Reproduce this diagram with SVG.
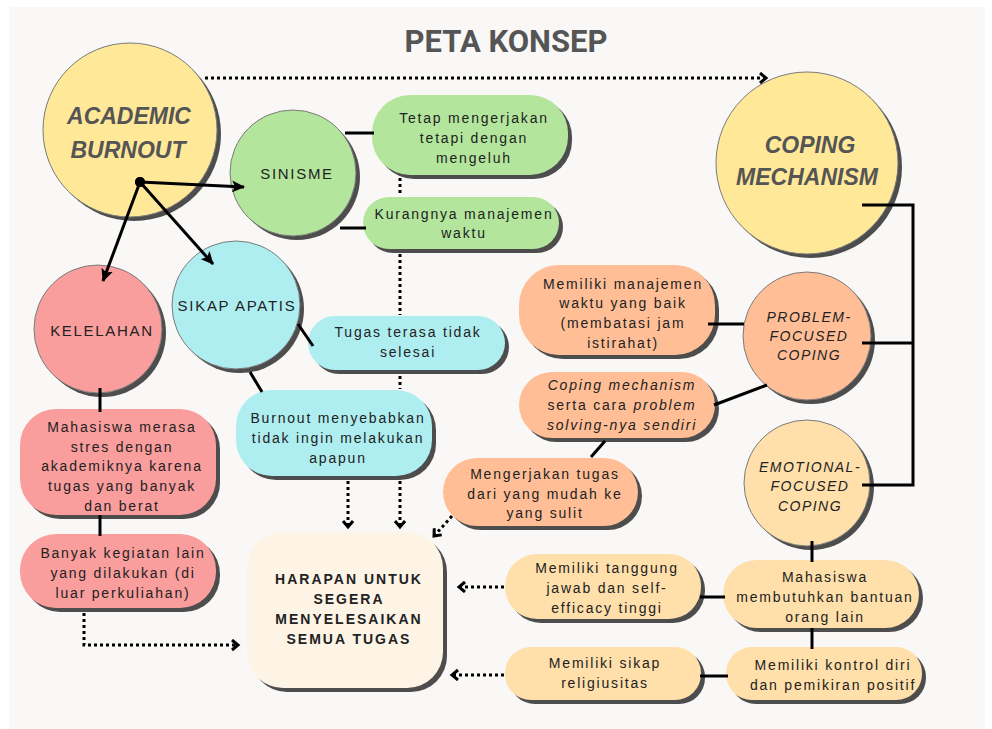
<svg xmlns="http://www.w3.org/2000/svg" width="992" height="729" viewBox="0 0 992 729">
<defs>
<style>
.bg{fill:#f9f8f7}
.sh{fill:#4d4d4d}
.ci{stroke:#7a7a7a;stroke-width:1}
.yel{fill:#ffe999}.grn{fill:#b3e69c}.pnk{fill:#f99d9d}.cyn{fill:#aeeef0}.pch{fill:#ffbe96}.lor{fill:#ffdfaa}.crm{fill:#fdf4e6}
text{font-family:"Liberation Sans",Arial,sans-serif;fill:#222;text-anchor:middle}
.t{font-size:14px;letter-spacing:1.8px}
.ct{font-size:15px;letter-spacing:1.7px}
.ci2{font-size:14px;letter-spacing:1.5px;font-style:italic}
.it{font-style:italic}
.big{font-size:23px;font-weight:bold;font-style:italic;fill:#555}
.hb{font-size:14px;font-weight:bold;letter-spacing:2px}
.ttl{font-family:Roboto,"Liberation Sans",sans-serif;font-size:31px;font-weight:bold;fill:#555}
.ln{stroke:#000;stroke-width:3;fill:none}
.dt{stroke:#000;stroke-width:3;stroke-dasharray:3 3;fill:none}
</style>
<marker id="ah" markerUnits="userSpaceOnUse" markerWidth="14" markerHeight="12" refX="12" refY="6" orient="auto">
<path d="M0,0 L13,6 L0,12 L3,6 Z" fill="#000"/>
</marker>
<marker id="ch" markerUnits="userSpaceOnUse" markerWidth="12" markerHeight="14" refX="7" refY="6" orient="auto">
<path d="M1,1 L7,6 L1,11" fill="none" stroke="#000" stroke-width="3" stroke-dasharray="none"/>
</marker>
</defs>
<rect x="0" y="0" width="992" height="729" fill="#ffffff"/>
<rect class="bg" x="9" y="7" width="976" height="722"/>
<text class="ttl" x="506" y="52">PETA KONSEP</text>

<g id="academic-burnout">
<circle class="sh" cx="134" cy="134" r="87"/>
<circle class="yel ci" cx="130" cy="130" r="87"/>
<text class="big" x="129" y="124">ACADEMIC</text>
<text class="big" x="128" y="158">BURNOUT</text>
<circle cx="140" cy="182" r="5" fill="#000"/>
</g>

<g id="sinisme">
<circle class="sh" cx="297" cy="177" r="63"/>
<circle class="grn ci" cx="293" cy="173" r="63"/>
<text class="ct" x="297" y="179">SINISME</text>
</g>

<g id="kelelahan">
<circle class="sh" cx="102" cy="333" r="64"/>
<circle class="pnk ci" cx="98" cy="329" r="64"/>
<text class="ct" x="102" y="336">KELELAHAN</text>
</g>

<g id="sikap-apatis">
<circle class="sh" cx="240" cy="309" r="64"/>
<circle class="cyn ci" cx="236" cy="305" r="64"/>
<text class="ct" x="237" y="311">SIKAP APATIS</text>
</g>

<g id="coping-mechanism">
<circle class="sh" cx="811" cy="167" r="91"/>
<circle class="yel ci" cx="807" cy="163" r="91"/>
<text class="big" x="810" y="153">COPING</text>
<text class="big" x="807" y="185">MECHANISM</text>
</g>

<g id="problem-focused">
<circle class="sh" cx="811" cy="340" r="64"/>
<circle class="pch ci" cx="807" cy="336" r="64"/>
<text class="ci2" x="809" y="322">PROBLEM-</text>
<text class="ci2" x="809" y="341">FOCUSED</text>
<text class="ci2" x="809" y="360">COPING</text>
</g>

<g id="emotional-focused">
<circle class="sh" cx="811" cy="487" r="63"/>
<circle class="lor ci" cx="807" cy="483" r="63"/>
<text class="ci2" x="810" y="472">EMOTIONAL-</text>
<text class="ci2" x="810" y="491">FOCUSED</text>
<text class="ci2" x="810" y="511">COPING</text>
</g>

<g id="tetap-mengerjakan">
<rect class="sh" x="376" y="99" width="196" height="80" rx="38"/>
<rect class="grn" x="372" y="95" width="196" height="80" rx="38"/>
<text class="t" x="474" y="123">Tetap mengerjakan</text>
<text class="t" x="474" y="143">tetapi dengan</text>
<text class="t" x="474" y="163">mengeluh</text>
</g>

<g id="kurangnya-manajemen">
<rect class="sh" x="367" y="201" width="196" height="52" rx="26"/>
<rect class="grn" x="363" y="197" width="196" height="52" rx="26"/>
<text class="t" x="464" y="219">Kurangnya manajemen</text>
<text class="t" x="464" y="238">waktu</text>
</g>

<g id="tugas-terasa">
<rect class="sh" x="312" y="320" width="197" height="54" rx="27"/>
<rect class="cyn" x="308" y="316" width="197" height="54" rx="27"/>
<text class="t" x="408" y="337">Tugas terasa tidak</text>
<text class="t" x="408" y="357">selesai</text>
</g>

<g id="burnout-menyebabkan">
<rect class="sh" x="240" y="394" width="196" height="86" rx="36"/>
<rect class="cyn" x="236" y="390" width="196" height="86" rx="36"/>
<text class="t" x="338" y="423">Burnout menyebabkan</text>
<text class="t" x="338" y="443">tidak ingin melakukan</text>
<text class="t" x="338" y="463">apapun</text>
</g>

<g id="mahasiswa-stres">
<rect class="sh" x="24" y="413" width="196" height="106" rx="36"/>
<rect class="pnk" x="20" y="409" width="196" height="106" rx="36"/>
<text class="t" x="122" y="432">Mahasiswa merasa</text>
<text class="t" x="122" y="452">stres dengan</text>
<text class="t" x="122" y="471">akademiknya karena</text>
<text class="t" x="122" y="491">tugas yang banyak</text>
<text class="t" x="122" y="511">dan berat</text>
</g>

<g id="banyak-kegiatan">
<rect class="sh" x="24" y="538" width="196" height="74" rx="36"/>
<rect class="pnk" x="20" y="534" width="196" height="74" rx="36"/>
<text class="t" x="123" y="558">Banyak kegiatan lain</text>
<text class="t" x="123" y="578">yang dilakukan (di</text>
<text class="t" x="123" y="598">luar perkuliahan)</text>
</g>

<g id="harapan">
<rect class="sh" x="251" y="536" width="196" height="156" rx="36"/>
<rect class="crm" x="247" y="532" width="196" height="156" rx="36"/>
<text class="hb" x="349" y="584">HARAPAN UNTUK</text>
<text class="hb" x="349" y="604">SEGERA</text>
<text class="hb" x="349" y="624">MENYELESAIKAN</text>
<text class="hb" x="349" y="644">SEMUA TUGAS</text>
</g>

<g id="manajemen-waktu-baik">
<rect class="sh" x="523" y="269" width="196" height="90" rx="40"/>
<rect class="pch" x="519" y="265" width="196" height="90" rx="40"/>
<text class="t" x="623" y="289">Memiliki manajemen</text>
<text class="t" x="623" y="308">waktu yang baik</text>
<text class="t" x="623" y="328">(membatasi jam</text>
<text class="t" x="623" y="348">istirahat)</text>
</g>

<g id="coping-problem-solving">
<rect class="sh" x="523" y="376" width="196" height="66" rx="33"/>
<rect class="pch" x="519" y="372" width="196" height="66" rx="33"/>
<text class="t" x="622" y="390"><tspan class="it">Coping mechanism</tspan></text>
<text class="t" x="622" y="410">serta cara <tspan class="it">problem</tspan></text>
<text class="t" x="622" y="430"><tspan class="it">solving-nya sendiri</tspan></text>
</g>

<g id="mengerjakan-tugas">
<rect class="sh" x="447" y="462" width="195" height="68" rx="34"/>
<rect class="pch" x="443" y="458" width="195" height="68" rx="34"/>
<text class="t" x="545" y="479">Mengerjakan tugas</text>
<text class="t" x="545" y="499">dari yang mudah ke</text>
<text class="t" x="545" y="518">yang sulit</text>
</g>

<g id="tanggung-jawab">
<rect class="sh" x="509" y="558" width="196" height="65" rx="32"/>
<rect class="lor" x="505" y="554" width="196" height="65" rx="32"/>
<text class="t" x="607" y="573">Memiliki tanggung</text>
<text class="t" x="607" y="593">jawab dan self-</text>
<text class="t" x="607" y="613">efficacy tinggi</text>
</g>

<g id="butuh-bantuan">
<rect class="sh" x="727" y="564" width="196" height="68" rx="34"/>
<rect class="lor" x="723" y="560" width="196" height="68" rx="34"/>
<text class="t" x="825" y="582">Mahasiswa</text>
<text class="t" x="825" y="602">membutuhkan bantuan</text>
<text class="t" x="825" y="622">orang lain</text>
</g>

<g id="kontrol-diri">
<rect class="sh" x="730" y="651" width="196" height="53" rx="26"/>
<rect class="lor" x="726" y="647" width="196" height="53" rx="26"/>
<text class="t" x="833" y="670">Memiliki kontrol diri</text>
<text class="t" x="833" y="690">dan pemikiran positif</text>
</g>

<g id="religiusitas">
<rect class="sh" x="509" y="651" width="196" height="53" rx="26"/>
<rect class="lor" x="505" y="647" width="196" height="53" rx="26"/>
<text class="t" x="605" y="668">Memiliki sikap</text>
<text class="t" x="605" y="688">religiusitas</text>
</g>

<g id="connectors">
<path class="dt" d="M205,78 H766" marker-end="url(#ch)"/>
<path class="dt" d="M400,178 V196"/>
<path class="dt" d="M400,254 V315"/>
<path class="dt" d="M400,376 V389"/>
<path class="dt" d="M400,481 V527" marker-end="url(#ch)"/>
<path class="dt" d="M348,481 V527" marker-end="url(#ch)"/>
<path class="dt" d="M452,516 L434,536" marker-end="url(#ch)"/>
<path class="dt" d="M84,613 V645 H238" marker-end="url(#ch)"/>
<path class="dt" d="M504,587 H459" marker-end="url(#ch)"/>
<path class="dt" d="M504,675 H452" marker-end="url(#ch)"/>
<path class="ln" d="M140,182 L244,187" marker-end="url(#ah)"/>
<path class="ln" d="M140,182 L103,281" marker-end="url(#ah)"/>
<path class="ln" d="M140,182 L213,264" marker-end="url(#ah)"/>
<circle cx="140" cy="182" r="5" fill="#000"/>
<path class="ln" d="M345,133 H374"/>
<path class="ln" d="M340,228 H366"/>
<path class="ln" d="M298,324 L313,346"/>
<path class="ln" d="M250,372 L262,392"/>
<path class="ln" d="M100,388 V412"/>
<path class="ln" d="M100,515 V536"/>
<path class="ln" d="M862,205 H913 V485 H862 M862,343 H913"/>
<path class="ln" d="M708,324 H744"/>
<path class="ln" d="M714,405 L767,385"/>
<path class="ln" d="M605,441 L591,457"/>
<path class="ln" d="M812,541 V562"/>
<path class="ln" d="M812,628 V649"/>
<path class="ln" d="M700,597 H725"/>
<path class="ln" d="M700,676 H728"/>
</g>
</svg>
